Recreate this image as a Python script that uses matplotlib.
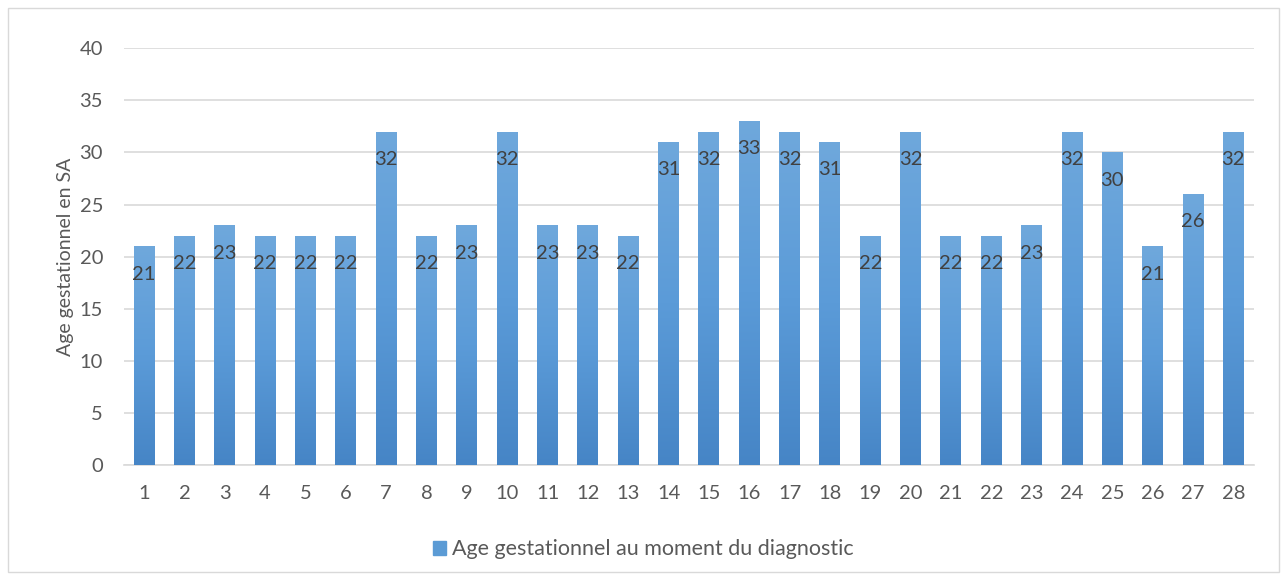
import matplotlib
matplotlib.use("Agg")
import matplotlib.pyplot as plt
import numpy as np
from matplotlib.patches import Rectangle
from matplotlib.colors import LinearSegmentedColormap

categories = [str(i) for i in range(1, 29)]
values = [21, 22, 23, 22, 22, 22, 32, 22, 23, 32, 23, 23, 22, 31, 32, 33, 32, 31,
          22, 32, 22, 22, 23, 32, 30, 21, 26, 32]
series_name = "Age gestationnel au moment du diagnostic"
y_label = "Age gestationnel en SA"
y_ticks = [0, 5, 10, 15, 20, 25, 30, 35, 40]

plt.rcParams['font.family'] = ['Lato', 'DejaVu Sans']

fig = plt.figure(figsize=(12.87, 5.80), dpi=100)
ax = fig.add_axes([0.0963, 0.198, 0.8777, 0.719])

x = np.arange(len(categories))
bars = ax.bar(x, values, width=0.52, color='#5B9BD5', zorder=2)

# gradient fill
grad = np.linspace(0, 1, 256).reshape(-1, 1)
cmap = LinearSegmentedColormap.from_list('g', ['#4685C6', '#5B9BD8', '#6FA8DC'])
for b in bars:
    bx, by = b.get_x(), b.get_y()
    w, h = b.get_width(), b.get_height()
    im = ax.imshow(grad, extent=[bx, bx + w, by, by + h], origin='lower',
                   cmap=cmap, aspect='auto', zorder=3)
    im.set_clip_path(b)

for xi, v in zip(x, values):
    ax.annotate(str(v), (xi, v), xytext=(0, -20), textcoords='offset points',
                ha='center', va='center', fontsize=14.5, color='#404040', zorder=4)

ax.set_xlim(-0.5, len(categories) - 0.5)
ax.set_ylim(0, 40)
ax.set_yticks(y_ticks)
ax.set_xticks(x)
ax.set_xticklabels(categories)
ax.grid(axis='y', color='#D9D9D9', linewidth=1.2, zorder=0)
for s in ['top', 'right', 'left']:
    ax.spines[s].set_visible(False)
ax.spines['bottom'].set_color('#D9D9D9')
ax.spines['bottom'].set_linewidth(1.2)
ax.tick_params(axis='both', length=0, labelsize=14.5, labelcolor='#595959')
ax.tick_params(axis='x', pad=14)
ax.tick_params(axis='y', pad=15)
ax.set_ylabel(y_label, fontsize=14, color='#595959', labelpad=4)

handle = Rectangle((0, 0), 1, 1, color='#5B9BD5')
fig.legend([handle], [series_name], loc='center', bbox_to_anchor=(0.5, 0.053),
           frameon=False, fontsize=15.5, labelcolor='#595959', handlelength=0.6,
           handleheight=0.6, handletextpad=0.3)

fig.patches.append(Rectangle((8 / 1287, 8 / 580), 1 - 16 / 1287, 1 - 16 / 580,
                             transform=fig.transFigure, fill=False,
                             edgecolor='#D9D9D9', linewidth=1))

fig.savefig('out.png', dpi=100)
